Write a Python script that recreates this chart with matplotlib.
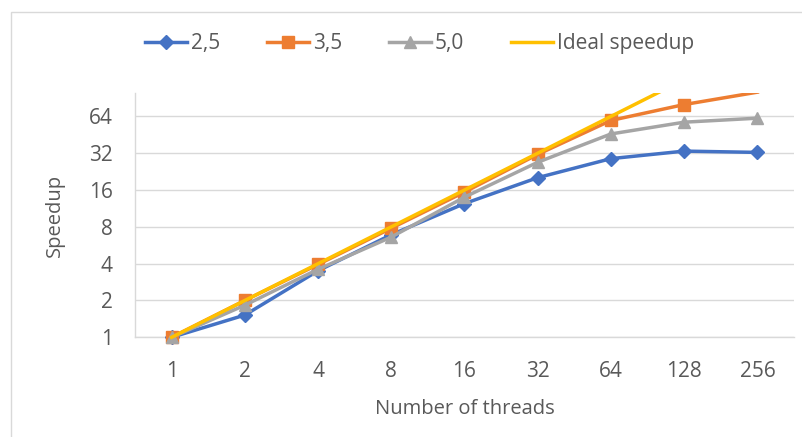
import matplotlib
matplotlib.use("Agg")
import matplotlib.pyplot as plt
import matplotlib.patches as patches
from matplotlib.ticker import FixedLocator, NullLocator, FixedFormatter
from matplotlib.transforms import Bbox, TransformedBbox

plt.rcParams['font.family'] = ['Open Sans', 'DejaVu Sans']

threads = ["1", "2", "4", "8", "16", "32", "64", "128", "256"]
s25 = [1, 1.52, 3.5, 6.9, 12.4, 20.2, 28.9, 33.3, 32.5]
s35 = [1, 2.0, 3.94, 7.8, 15.4, 31.3, 59.3, 80, 101]
s50 = [1, 1.83, 3.6, 6.6, 14.0, 27, 46, 57.4, 61.9]
ideal = [1, 2, 4, 8, 16, 32, 64, 128, 256]
yticks = [1, 2, 4, 8, 16, 32, 64]
ymax = 100

fig = plt.figure(figsize=(8.03, 4.37), dpi=100)
ax_bottom = 337.3
ax_top = 92.7
ax = fig.add_axes([135/803, 1-ax_bottom/437, 659/803, (ax_bottom-ax_top)/437])
ah = ax_bottom - ax_top

x = list(range(len(threads)))
tc = '#595959'
clip = TransformedBbox(Bbox([[-0.2, -0.2], [1.2, 1.0]]), ax.transAxes)


def inside(vals):
    return [i for i, v in enumerate(vals) if v <= ymax]


series = [
    (s25, '#4472C4', 'D', 7, '2,5'),
    (s35, '#ED7D31', 's', 8.5, '3,5'),
    (s50, '#A5A5A5', '^', 9, '5,0'),
]
for vals, col, mk, ms, lab in series:
    ln, = ax.plot(x, vals, color=col, lw=2.5, marker=mk, ms=ms, label=lab,
                  markevery=inside(vals), zorder=3)
    ln.set_clip_box(clip)
ln, = ax.plot(x, ideal, color='#FFC000', lw=2.5, label='Ideal speedup', zorder=4)
ln.set_clip_box(clip)

ax.set_yscale('log', base=2)
ax.set_ylim(1, ymax)
ax.set_xlim(-0.5, len(threads)-0.5)
ax.yaxis.set_major_locator(FixedLocator(yticks))
ax.yaxis.set_major_formatter(FixedFormatter([str(v) for v in yticks]))
ax.yaxis.set_minor_locator(NullLocator())
ax.set_xticks(x)
ax.set_xticklabels(threads)
ax.tick_params(axis='both', length=0, colors=tc, labelsize=15)
ax.tick_params(axis='y', pad=16)
ax.tick_params(axis='x', pad=17)
ax.grid(axis='y', color='#D9D9D9', lw=1)
ax.set_axisbelow(True)
for s in ['top', 'right']:
    ax.spines[s].set_visible(False)
for s in ['left', 'bottom']:
    ax.spines[s].set_color('#D9D9D9')
    ax.spines[s].set_linewidth(1)

ax.set_xlabel('Number of threads', fontsize=14.5, color=tc, va='baseline')
ax.xaxis.set_label_coords(0.5, (ax_bottom-414)/ah)
ax.set_ylabel('Speedup', fontsize=14.5, color=tc, va='center', ha='center')
ax.yaxis.set_label_coords((55-135)/659, 0.5)

fig.legend(loc='center left', bbox_to_anchor=(145/803, 1-44/437), ncol=4, frameon=False,
           fontsize=15, handlelength=2.0, columnspacing=2.25, handletextpad=0.2,
           borderpad=0, borderaxespad=0, labelcolor=tc)

fig.patches.append(patches.Rectangle((11/803, -0.1), 1.2, 1-12/437+0.1,
                                     transform=fig.transFigure, fill=False,
                                     edgecolor='#D9D9D9', lw=1))
fig.savefig('out.png', dpi=100, facecolor='white')
